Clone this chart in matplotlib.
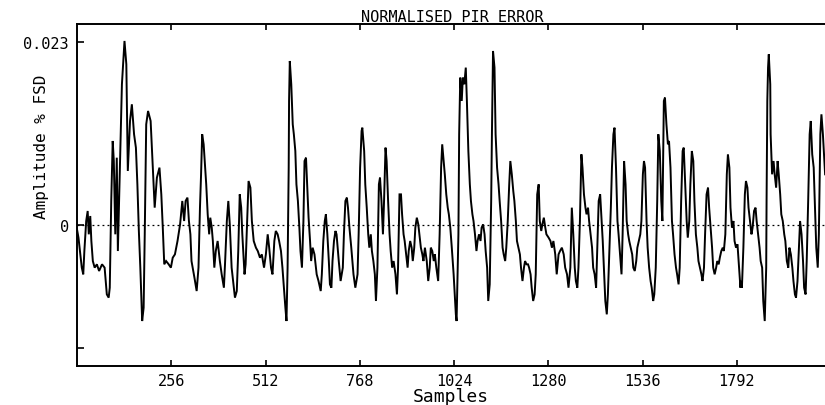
import matplotlib
matplotlib.use("Agg")
import matplotlib.pyplot as plt
import numpy as np

# ---- data (amplitude in units of 1e-3 % FSD) ----
samples = [
    0, 4, 9, 13, 17, 20, 25, 29, 32, 36, 39, 43, 48, 54, 60, 68, 75, 81, 86, 89,
    93, 97, 100, 104, 108, 111, 116, 122, 129, 134, 138, 144, 149, 155, 160, 164,
    168, 172, 177, 181, 184, 188, 193, 200, 206, 211, 217, 224, 229, 233, 237, 242,
    249, 255, 260,
    266, 273, 280, 286, 291, 295, 300, 304, 308, 311, 319, 325, 330, 334, 337, 340,
    344, 348, 351, 355, 359, 362, 366, 369, 373, 377, 382, 388, 393, 399, 402, 407,
    411, 415, 420, 426, 429, 434, 438, 442, 446, 449, 455, 458, 462, 466, 471, 475,
    480, 486, 491, 497, 502, 508, 513, 518,
    522, 527, 531, 536, 540, 545, 549, 554, 558, 562, 566, 569, 572, 575, 576, 578,
    582, 586, 589, 593, 596, 600, 604, 607, 611, 615, 618, 622, 625, 629, 633, 636,
    640, 645, 651, 656, 662, 665, 669, 673, 676, 680, 684, 687, 691, 694, 698, 702,
    705, 711, 716, 722, 725, 729, 733, 736, 740, 745, 751, 756, 762, 765, 769, 773,
    775,
    780, 783, 787, 791, 794, 798, 801, 805, 809, 812, 816, 820, 823, 827, 831, 834,
    838, 841, 845, 849, 852, 856, 860, 865, 869, 872, 876, 880, 883, 887, 890, 894,
    898, 901, 905, 909, 912, 916, 919, 923, 927, 930, 934, 938, 941, 945, 950, 954,
    958, 961, 965, 969, 972, 976, 981, 985, 989, 992, 996, 999, 1003, 1007, 1010,
    1014, 1018, 1023, 1029, 1031,
    1036, 1038, 1041, 1045, 1048, 1052, 1056, 1059, 1063, 1067, 1070, 1074, 1077,
    1081, 1085, 1088, 1092, 1096, 1099, 1103, 1107, 1110, 1114, 1117, 1121, 1125,
    1127, 1130, 1134, 1137, 1141, 1145, 1148, 1152, 1156, 1159, 1163, 1166, 1170,
    1174, 1177, 1181, 1185, 1188, 1192, 1195, 1199, 1203, 1206, 1210, 1214, 1217,
    1221, 1225, 1228, 1232, 1235, 1239, 1243, 1246, 1250, 1254, 1257, 1261, 1264,
    1268, 1272, 1275, 1281, 1286,
    1290, 1294, 1299, 1303, 1308, 1312, 1317, 1322, 1326, 1331, 1335, 1340, 1344,
    1348, 1352, 1355, 1359, 1362, 1366, 1370, 1373, 1377, 1381, 1384, 1388, 1391,
    1395, 1399, 1402, 1406, 1410, 1413, 1417, 1421, 1424, 1428, 1431, 1435, 1439,
    1442, 1446, 1450, 1453, 1457, 1460, 1464, 1468, 1471, 1475, 1479, 1482, 1486,
    1490, 1493, 1497, 1500, 1504, 1508, 1511, 1515, 1519, 1522, 1526, 1530, 1533,
    1537, 1540, 1543,
    1547, 1550, 1554, 1558, 1561, 1565, 1568, 1572, 1576, 1579, 1583, 1587, 1590,
    1594, 1597, 1601, 1605, 1608, 1612, 1616, 1619, 1623, 1627, 1630, 1634, 1637,
    1641, 1645, 1648, 1652, 1656, 1659, 1663, 1666, 1670, 1674, 1677, 1681, 1685,
    1688, 1692, 1696, 1699, 1703, 1706, 1710, 1714, 1717, 1721, 1725, 1728, 1732,
    1736, 1739, 1743, 1746, 1750, 1754, 1757, 1761, 1765, 1768, 1772, 1775, 1779,
    1783, 1786, 1790, 1794, 1797, 1802,
    1803, 1806, 1810, 1814, 1817, 1821, 1824, 1828, 1832, 1835, 1839, 1843, 1846,
    1850, 1854, 1857, 1861, 1864, 1868, 1872, 1873, 1875, 1877, 1879, 1883, 1884,
    1888, 1892, 1895, 1899, 1903, 1906, 1910, 1913, 1917, 1921, 1924, 1928, 1932,
    1935, 1939, 1943, 1946, 1950, 1953, 1957, 1961, 1964, 1968, 1972, 1975, 1979,
    1982, 1986, 1990, 1993, 1997, 2001, 2004, 2008, 2012, 2015, 2019, 2022, 2026,
    2030, 2032,
]

amplitude_milli = [
    -0.54, -1.59, -3.69, -5.36, -6.20, -3.27, 0.50, 1.76, -1.17, 1.13, -2.01, -4.53,
    -5.36, -4.94, -5.78, -4.94, -5.36, -8.72, -9.13, -7.88, 3.02, 10.56, 8.04, -1.17,
    8.46, -3.27, 6.37, 17.68, 23.13, 20.20, 6.79, 13.07, 15.17, 11.40, 9.72, 5.11,
    -0.75, -5.36, -12.07, -10.39, -1.17, 12.65, 14.33, 13.07, 7.21, 2.18, 5.95, 7.21,
    3.85, -0.34, -4.94, -4.53, -4.94, -5.36, -4.11,
    -3.69, -2.01, 0.08, 3.02, 0.50, 3.02, 3.44, 0.50, -1.17, -4.53, -6.62, -8.30,
    -5.36, 2.18, 6.37, 11.40, 10.14, 7.21, 5.11, 1.34, -1.17, 0.92, -0.34, -2.01,
    -5.36, -3.27, -2.01, -4.53, -6.20, -7.88, -4.94, 0.50, 3.02, 0.08, -5.36, -7.88,
    -9.13, -8.30, -3.27, 3.85, 2.18, -1.17, -6.20, -4.94, 0.50, 5.53, 4.69, 0.50,
    -2.01, -2.85, -3.27, -4.11, -3.69, -5.36, -3.69, -1.17,
    -2.85, -5.36, -6.20, -2.01, -0.75, -1.17, -2.01, -3.27, -5.36, -7.88, -10.39,
    -12.07, -5.36, 7.21, 15.59, 20.61, 17.68, 12.65, 11.40, 9.30, 5.11, 3.02, -0.34,
    -3.27, -5.36, 0.50, 8.04, 8.46, 5.11, 0.92, -2.01, -4.53, -2.85, -3.69, -6.20,
    -7.04, -8.30, -6.20, -2.01, 0.50, 1.34, -1.17, -4.53, -7.46, -7.88, -4.53, -2.01,
    -0.75, -1.17, -4.53, -7.04, -5.36, -1.17, 3.02, 3.44, 2.18, -0.34, -2.85, -6.20,
    -7.88, -6.20, -1.17, 7.21, 11.82, 12.23,
    9.30, 5.11, 2.18, -1.17, -2.85, -1.17, -3.27, -4.53, -6.20, -9.55, -5.36, 5.11,
    5.95, 3.02, -1.17, 3.02, 9.72, 8.04, 3.02, -1.17, -3.27, -5.36, -4.53, -6.20,
    -8.72, -5.36, 3.85, 3.85, 1.34, -1.17, -2.01, -3.69, -5.36, -3.27, -2.01, -2.85,
    -4.53, -2.85, -0.34, 0.92, 0.08, -1.17, -2.85, -3.69, -4.53, -2.85, -4.53, -7.04,
    -5.36, -2.85, -3.27, -4.53, -3.69, -5.36, -7.04, -1.17, 7.21, 10.14, 8.04, 6.37,
    3.85, 2.18, 1.34, -0.34, -2.85, -6.20, -11.23, -12.07,
    -1.17, 11.40, 18.52, 15.59, 18.52, 17.68, 19.78, 15.59, 9.30, 5.11, 3.02, 1.34,
    0.50, -1.17, -3.27, -2.01, -1.17, -2.01, -0.34, 0.08, -1.17, -3.27, -5.36, -9.55,
    -7.46, 3.02, 11.40, 21.87, 19.78, 11.40, 7.21, 5.11, 3.02, 0.50, -2.85, -3.69,
    -4.53, -2.85, 0.50, 5.11, 8.04, 6.37, 4.27, 3.02, 0.50, -2.01, -2.85, -3.69,
    -5.36, -7.04, -5.36, -4.53, -4.94, -4.94, -5.36, -6.20, -7.88, -9.55, -8.72,
    -6.20, 3.85, 5.11, 0.50, -0.75, 0.08, 0.92, -0.34, -1.17, -1.59, -2.01,
    -2.85, -2.01, -3.69, -6.20, -3.69, -3.27, -2.85, -3.69, -5.36, -6.20, -7.88,
    -5.36, 2.18, -1.17, -5.36, -7.04, -7.88, -5.36, 0.50, 8.88, 7.21, 3.85, 2.18,
    1.34, 2.18, 0.50, -1.17, -2.85, -5.36, -6.20, -7.88, -3.27, 3.02, 3.85, 1.34,
    -2.01, -5.36, -9.55, -11.23, -8.72, -3.27, 2.18, 7.21, 11.40, 12.23, 7.21, 0.50,
    -1.17, -3.69, -6.20, -1.17, 8.04, 5.11, 0.50, -1.17, -2.01, -2.85, -3.69, -5.36,
    -5.78, -4.53, -2.85, -2.01, -1.17, 0.50, 6.37, 8.04, 7.21,
    0.50, -2.85, -5.36, -7.04, -7.88, -9.55, -8.72, -5.36, 3.02, 11.40, 9.30, 3.02,
    0.50, 15.59, 16.01, 12.65, 10.14, 10.56, 7.21, 0.50, -1.17, -3.69, -5.36, -6.20,
    -7.46, -5.36, 3.02, 9.30, 9.72, 5.11, 0.50, -1.59, 0.50, 5.11, 9.30, 8.04, 3.02,
    -1.17, -2.85, -4.53, -5.36, -6.20, -7.04, -5.36, -1.17, 3.85, 4.69, 2.18, -0.34,
    -2.85, -5.36, -6.20, -5.36, -4.53, -4.94, -4.11, -3.27, -2.85, -3.27, -1.17,
    6.37, 8.88, 7.21, 2.18, -0.34, 0.50, -2.01, -2.85, -2.43, -4.53, -7.88,
    -7.04, -7.88, -2.85, 3.85, 5.53, 4.69, 2.18, 0.50, -1.17, -0.34, 1.76, 2.18,
    0.50, -1.17, -2.85, -4.53, -5.36, -9.55, -12.07, -5.36, 3.02, 15.59, 19.78,
    21.45, 17.68, 11.40, 6.37, 8.04, 6.37, 4.69, 8.04, 6.37, 3.85, 1.34, 0.50,
    -1.17, -2.01, -4.53, -5.36, -2.85, -3.69, -5.36, -7.04, -8.72, -9.13, -7.04,
    -2.85, 0.50, -1.17, -4.53, -7.88, -8.72, -4.53, 3.02, 11.40, 13.07, 8.88, 7.21,
    3.02, -2.85, -5.36, -1.17, 11.40, 13.91, 11.40, 8.04, 6.37,
]

xtick_values = [256, 512, 768, 1024, 1280, 1536, 1792]
xtick_labels = ["256", "512", "768", "1024", "1280", "1536", "1792"]
ytick_values = [0.023, 0.0, -0.0155]
ytick_labels = ["0.023", "0", ""]

title_text = "NORMALISED PIR ERROR"
xlabel_text = "Samples"
ylabel_text = "Amplitude % FSD"

# ---- figure ----
amplitude = np.array(amplitude_milli) * 1e-3
W, H = 825, 406
fig = plt.figure(figsize=(W / 100, H / 100), dpi=100)
ax = fig.add_axes([77 / W, (H - 367) / H, (831 - 77) / W, (367 - 25) / H])

ax.plot(samples, amplitude, color="black", lw=1.4, solid_joinstyle="miter")
ax.axhline(0, color="black", lw=0.9, ls=(0, (1.5, 2.5)))

ax.set_xlim(0, 2048)
ax.set_ylim(-0.01772, 0.02526)

mono = "DejaVu Sans Mono"
ax.set_xticks(xtick_values)
ax.set_xticklabels(xtick_labels, family=mono, fontsize=11)
ax.set_yticks(ytick_values)
ax.set_yticklabels(ytick_labels, family=mono, fontsize=11)
ax.tick_params(axis="x", direction="in", length=4, width=1.2, pad=5,
               top=True, labeltop=False)
ax.tick_params(axis="y", direction="in", length=5, width=1.2, pad=6,
               right=False)
for s in ["left", "bottom", "top"]:
    ax.spines[s].set_linewidth(1.4)
ax.spines["right"].set_visible(False)

fig.text(452 / W, 1 - 17 / H, title_text, family=mono, fontsize=11,
         ha="center", va="center")
fig.text(451 / W, 1 - 397 / H, xlabel_text, family=mono, fontsize=13,
         ha="center", va="center")
fig.text(42 / W, 1 - 147 / H, ylabel_text, family=mono, fontsize=11.5,
         ha="center", va="center", rotation=90)

fig.savefig("out.png", dpi=100)
